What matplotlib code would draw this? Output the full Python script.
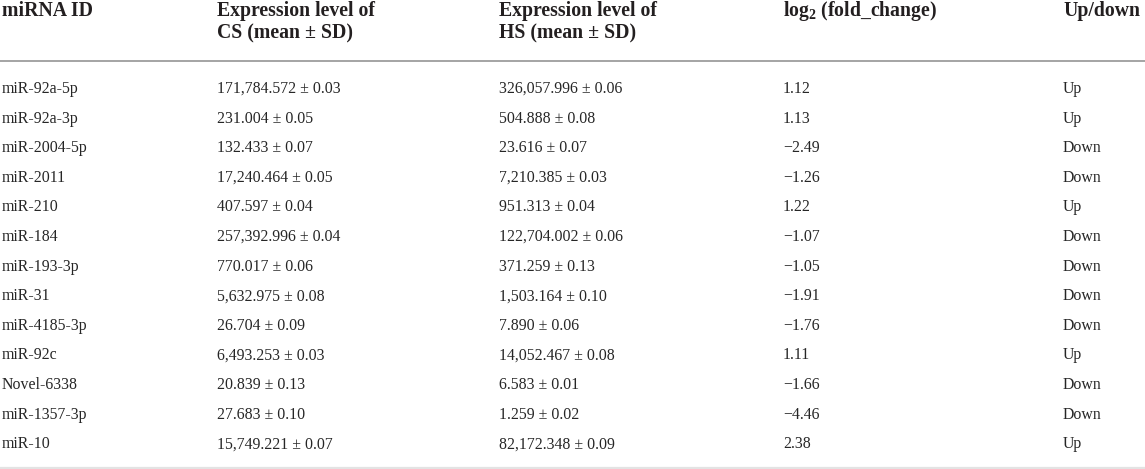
import matplotlib.pyplot as plt

plt.rcParams['font.family'] = ['Liberation Serif', 'DejaVu Serif']
plt.rcParams['mathtext.fontset'] = 'custom'
plt.rcParams['mathtext.rm'] = 'Liberation Serif:bold'
plt.rcParams['mathtext.bf'] = 'Liberation Serif:bold'

# table data
mirna_ids = ["miR-92a-5p", "miR-92a-3p", "miR-2004-5p", "miR-2011", "miR-210", "miR-184",
             "miR-193-3p", "miR-31", "miR-4185-3p", "miR-92c", "Novel-6338", "miR-1357-3p", "miR-10"]
cs_mean = [171784.572, 231.004, 132.433, 17240.464, 407.597, 257392.996,
           770.017, 5632.975, 26.704, 6493.253, 20.839, 27.683, 15749.221]
cs_sd = [0.03, 0.05, 0.07, 0.05, 0.04, 0.04, 0.06, 0.08, 0.09, 0.03, 0.13, 0.10, 0.07]
hs_mean = [326057.996, 504.888, 23.616, 7210.385, 951.313, 122704.002,
           371.259, 1503.164, 7.890, 14052.467, 6.583, 1.259, 82172.348]
hs_sd = [0.06, 0.08, 0.07, 0.03, 0.04, 0.06, 0.13, 0.10, 0.06, 0.08, 0.01, 0.02, 0.09]
log2_fc = [1.12, 1.13, -2.49, -1.26, 1.22, -1.07, -1.05, -1.91, -1.76, 1.11, -1.66, -4.46, 2.38]
up_down = ["Up", "Up", "Down", "Down", "Up", "Down", "Down", "Down", "Down", "Up", "Down", "Down", "Up"]

headers = [
    ["miRNA ID"],
    ["Expression level of", "CS (mean \u00b1 SD)"],
    ["Expression level of", "HS (mean \u00b1 SD)"],
    ["log$_{\\mathbf{2}}$ (fold_change)"],
    ["Up/down"],
]

W, H = 1145, 469
fig = plt.figure(figsize=(W / 100, H / 100), dpi=100)
fig.patch.set_facecolor('white')

col_x = [2, 217, 499, 783, 1063]
HEAD_COLOR = '#231f20'
BODY_COLOR = '#262626'


def fx(x):
    return x / W


def fy(y):
    return 1 - y / H


# header
for x, lines in zip(col_x, headers):
    for k, line in enumerate(lines):
        fig.text(fx(x), fy(16 + 22 * k), line, fontsize=14.2, fontweight='bold',
                 color=HEAD_COLOR, va='baseline', ha='left')

# rule lines
fig.add_artist(plt.Line2D([0, 1], [fy(61), fy(61)], color='#8c8c8c', linewidth=1.1))
fig.add_artist(plt.Line2D([0, 1], [fy(468), fy(468)], color='#e3e3e3', linewidth=1.6))


def fmt_fc(v):
    return f"{v:.2f}".replace('-', '\u2212')


row_h = 29.6
for i in range(len(mirna_ids)):
    base = 93 + i * row_h
    cells = [
        mirna_ids[i],
        f"{cs_mean[i]:,.3f} \u00b1 {cs_sd[i]:.2f}",
        f"{hs_mean[i]:,.3f} \u00b1 {hs_sd[i]:.2f}",
        fmt_fc(log2_fc[i]),
        up_down[i],
    ]
    for x, txt in zip(col_x, cells):
        fig.text(fx(x), fy(base), txt, fontsize=11.4, color=BODY_COLOR,
                 va='baseline', ha='left')

fig.savefig('out.png', dpi=100, facecolor='white')
